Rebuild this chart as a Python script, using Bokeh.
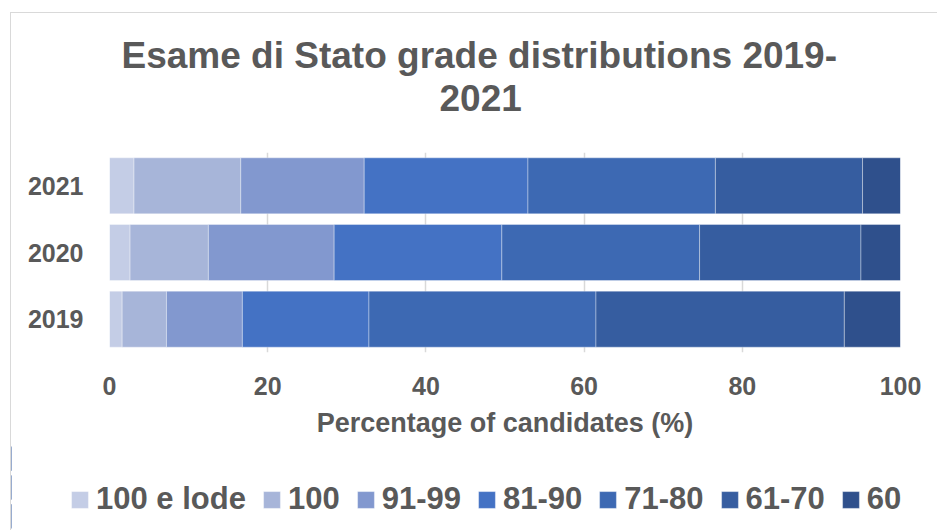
from bokeh.plotting import figure
from bokeh.models import (ColumnDataSource, FactorRange, Range1d, Legend, LegendItem,
                          Title, FixedTicker)
from bokeh.layouts import column
from bokeh.embed import file_html
from bokeh.resources import INLINE

years = ["2019", "2020", "2021"]
grades = ["100 e lode", "100", "91-99", "81-90", "71-80", "61-70", "60"]
lode = [1.6, 2.6, 3.1]
g100 = [5.6, 9.9, 13.5]
g91_99 = [9.6, 15.9, 15.6]
g81_90 = [16.0, 21.2, 20.7]
g71_80 = [28.7, 25.0, 23.7]
g61_70 = [31.4, 20.4, 18.6]
g60 = [7.1, 5.0, 4.8]
x_ticks = [0, 20, 40, 60, 80, 100]

colors = ["#C4CDE6", "#A7B5D9", "#8298CF", "#4472C4", "#3D69B3", "#365DA0", "#2F508C"]

source = ColumnDataSource(data={
    "year": years,
    "100 e lode": lode, "100": g100, "91-99": g91_99, "81-90": g81_90,
    "71-80": g71_80, "61-70": g61_70, "60": g60,
})

FONT = "Liberation Sans"
TXT = "#595959"
BORDER = "1.5px solid #D9D9D9"

# ---------------- main chart ----------------
p = figure(width=927, height=432, output_backend="svg", toolbar_location=None,
           y_range=FactorRange(*years), x_range=Range1d(0, 100),
           min_border_left=98, min_border_right=38, min_border_top=139, min_border_bottom=93)
p.title = None
p.outline_line_color = None
p.styles = {"margin-left": "10px", "margin-top": "12px",
            "border-left": BORDER, "border-top": BORDER}

renderers = p.hbar_stack(grades, y="year", height=0.84, color=colors, source=source,
                         line_color="white", line_alpha=0.35, line_width=1)

p.xaxis.ticker = FixedTicker(ticks=x_ticks)
p.xaxis.axis_label = "Percentage of candidates (%)"
for ax in (p.xaxis[0], p.yaxis[0]):
    ax.axis_line_color = None
    ax.major_tick_line_color = None
    ax.minor_tick_line_color = None
    ax.major_label_text_font = FONT
    ax.major_label_text_font_style = "bold"
    ax.major_label_text_font_size = "25px"
    ax.major_label_text_color = TXT
p.xaxis.major_label_standoff = 18
p.yaxis.major_label_standoff = 20
p.xaxis.axis_label_text_font = FONT
p.xaxis.axis_label_text_font_style = "bold"
p.xaxis.axis_label_text_font_size = "27px"
p.xaxis.axis_label_text_color = TXT
p.xaxis.axis_label_standoff = 10

p.xgrid.grid_line_color = "#D9D9D9"
p.xgrid.grid_line_width = 1.5
p.ygrid.grid_line_color = None

spacer_top = Title(text=" ", text_font_size="2px", standoff=31)
t2 = Title(text="2021", align="left", offset=330, text_font=FONT, text_font_style="bold",
           text_font_size="37px", text_color=TXT, standoff=14)
t1 = Title(text="Esame di Stato grade distributions 2019-", align="left", offset=12,
           text_font=FONT, text_font_style="bold", text_font_size="37px", text_color=TXT, standoff=0)
p.add_layout(spacer_top, "above")
p.add_layout(t2, "above")
p.add_layout(t1, "above")

# ---------------- legend strip ----------------
# same stacked bars, scrolled out of view, only to supply the legend swatches
q = figure(width=927, height=86, output_backend="svg", toolbar_location=None,
           x_range=Range1d(1000, 1001), y_range=FactorRange(*years),
           x_axis_type=None, y_axis_type=None,
           min_border_left=0, min_border_right=0, min_border_top=0, min_border_bottom=0)
q.title = None
q.outline_line_color = None
q.grid.grid_line_color = None
q.styles = {"margin-left": "10px", "border-left": BORDER}
try:
    q.frame_align = False
except Exception:
    pass

q_renderers = q.hbar_stack(grades, y="year", height=0.84, color=colors, source=source,
                           line_color="white", line_alpha=0.35, line_width=1)

items = [LegendItem(label=g, renderers=[r]) for g, r in zip(grades, q_renderers)]
legend = Legend(items=items, orientation="horizontal", location=(58, 13),
                glyph_width=21, glyph_height=21, label_standoff=6, spacing=15,
                padding=0, margin=0, border_line_color=None, background_fill_alpha=0,
                label_text_font=FONT, label_text_font_style="bold",
                label_text_font_size="31px", label_text_color=TXT)
q.add_layout(legend, "center")

layout = column(p, q, spacing=0)
open("out.html", "w").write(file_html(layout, INLINE))
